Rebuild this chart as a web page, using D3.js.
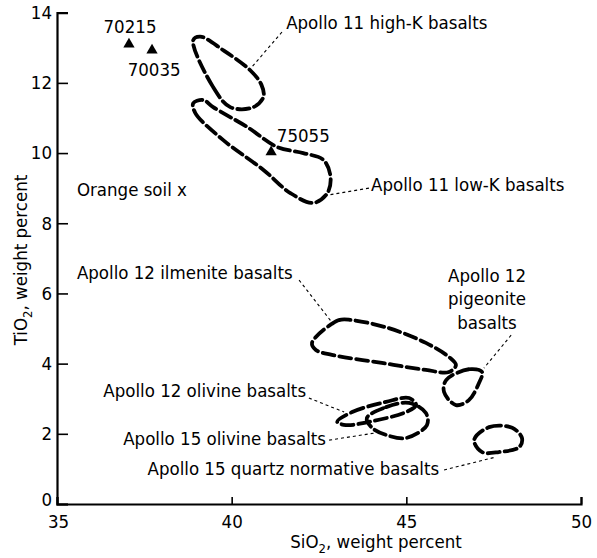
<!DOCTYPE html>
<html><head><meta charset="utf-8">
<script src="https://cdn.jsdelivr.net/npm/d3@7"></script>
<style>
body{margin:0;background:#fff}
text{font-family:"Liberation Sans Narrow","DejaVu Sans Condensed","Arial Narrow",sans-serif;fill:#000}
</style></head><body>
<svg id="c" width="597" height="558"></svg>
<script>
const xTicks=[35,40,45,50];
const yTicks=[0,2,4,6,8,10,12,14];

const highK=[[38.9,13.22],[39.47,11.88],[39.96,11.31],[40.6,11.3],[40.91,11.6],[40.85,11.95],[40.53,12.36],[39.76,12.93],[39.1,13.32]];
const lowK=[[38.9,11.42],[38.96,11.14],[39.76,10.37],[40.91,9.52],[41.68,8.86],[42.34,8.58],[42.74,8.86],[42.83,9.32],[42.63,9.8],[42.05,10.0],[41.31,10.17],[40.45,10.74],[39.47,11.31],[39.19,11.51]];
const ilmenite=[[42.3,4.59],[43.07,5.24],[43.45,5.24],[44.5,5.01],[45.56,4.59],[46.22,4.19],[46.42,3.96],[46.22,3.76],[45.56,3.82],[44.3,4.02],[42.87,4.25],[42.41,4.39]];
const pigeonite=[[47.17,3.76],[46.79,3.84],[46.14,3.53],[46.08,3.19],[46.42,2.82],[46.79,2.96],[47.08,3.45]];
const olivine12=[[43.02,2.34],[43.45,2.62],[44.42,2.91],[45.08,3.02],[45.28,2.82],[44.99,2.62],[43.93,2.34],[43.27,2.25]];
const olivine15=[[43.87,2.45],[44.42,2.76],[45.08,2.88],[45.56,2.59],[45.59,2.25],[44.99,1.88],[44.42,1.97],[44.02,2.17]];
const quartzNorm=[[46.94,1.82],[47.37,2.19],[48.03,2.17],[48.31,1.88],[48.23,1.62],[47.65,1.48],[47.17,1.48]];
const fields=[highK,lowK,ilmenite,pigeonite,olivine12,olivine15,quartzNorm];

const sampleNames=["70215","70035","75055"];
const sampleSi=[37.06,37.72,41.13];
const sampleTi=[13.1,12.93,10.03];
const sampleLabelPos=[[37.09,13.62,"middle"],[37.78,12.38,"middle"],[42.05,10.51,"middle"]];

const labels=[
 {t:["Apollo 11 high-K basalts"],p:[41.56,13.73],a:"start",l:[[41.44,13.45],[40.55,12.42]]},
 {t:["Apollo 11 low-K basalts"],p:[43.99,9.09],a:"start",l:[[43.93,9.0],[42.73,8.8]]},
 {t:["Apollo 12 ilmenite basalts"],p:[35.57,6.61],a:"start",l:[[41.93,6.38],[42.93,5.1]]},
 {t:["Apollo 12","pigeonite","basalts"],p:[47.31,6.52],a:"middle",l:[[48.0,4.81],[47.22,3.87]]},
 {t:["Apollo 12 olivine basalts"],p:[42.13,3.22],a:"end",l:[[42.21,3.02],[43.22,2.62]]},
 {t:["Apollo 15 olivine basalts"],p:[42.7,1.88],a:"end",l:[[42.79,1.82],[44.08,2.02]]},
 {t:["Apollo 15 quartz normative basalts"],p:[45.94,1.0],a:"end",l:[[46.08,0.97],[47.57,1.34]]},
 {t:["Orange soil x"],p:[35.57,8.95],a:"start",l:null}
];

const svg=d3.select("#c");
const x=d3.scaleLinear().domain([35,50]).range([57,581]);
const y=d3.scaleLinear().domain([0,14]).range([504,12.7]);
const fs=18.5;

// fields
const line=d3.line().x(d=>x(d[0])).y(d=>y(d[1])).curve(d3.curveCatmullRomClosed.alpha(0.5));
svg.selectAll("path.field").data(fields).join("path").attr("class","field")
 .attr("d",line).attr("fill","none").attr("stroke","#000").attr("stroke-width",3.8)
 .attr("stroke-dasharray","12,5").attr("stroke-linecap","round");

// leaders
labels.filter(d=>d.l).forEach(d=>{
 svg.append("line").attr("x1",x(d.l[0][0])).attr("y1",y(d.l[0][1])).attr("x2",x(d.l[1][0])).attr("y2",y(d.l[1][1]))
  .attr("stroke","#000").attr("stroke-width",1.1).attr("stroke-dasharray","3,3");
});
labels.forEach(d=>{
 const t=svg.append("text").attr("text-anchor",d.a).attr("font-size",fs);
 d.t.forEach((s,i)=>t.append("tspan").attr("x",x(d.p[0])).attr("y",y(d.p[1])+i*23.5).attr("dy","0.35em").text(s));
});

// samples
const tri=d3.symbol().type(d3.symbolTriangle).size(55);
sampleNames.forEach((n,i)=>{
 svg.append("path").attr("d",tri).attr("transform",`translate(${x(sampleSi[i])},${y(sampleTi[i])})`).attr("fill","#000");
 svg.append("text").attr("x",x(sampleLabelPos[i][0])).attr("y",y(sampleLabelPos[i][1])).attr("dy","0.35em")
  .attr("text-anchor",sampleLabelPos[i][2]).attr("font-size",fs).text(n);
});

// axes
const gx=svg.append("g").attr("transform",`translate(0,${y(0)})`)
 .call(d3.axisBottom(x).tickValues(xTicks).tickSize(-7).tickPadding(11).tickFormat(d3.format("d")));
const gy=svg.append("g").attr("transform",`translate(${x(35)},0)`)
 .call(d3.axisLeft(y).tickValues(yTicks).tickSize(-11).tickPadding(5).tickFormat(d3.format("d")));
[gx,gy].forEach(g=>{
 g.select(".domain").attr("stroke","#000").attr("stroke-width",2.2);
 g.selectAll(".tick line").attr("stroke","#000").attr("stroke-width",1.6);
 g.selectAll(".tick text").attr("font-size",fs).attr("font-family",null).attr("fill","#000");
});
gx.selectAll(".tick text").filter(d=>d===35).attr("dx",1);
gy.selectAll(".tick text").filter(d=>d===0).attr("dy","0.1em");

// titles
const xt=svg.append("text").attr("x",376).attr("y",548).attr("text-anchor","middle").attr("font-size",fs);
xt.append("tspan").text("SiO");
xt.append("tspan").attr("font-size",13).attr("dy",5).text("2");
xt.append("tspan").attr("dy",-5).text(", weight percent");
const yt=svg.append("text").attr("transform","translate(27,260) rotate(-90)").attr("text-anchor","middle").attr("font-size",fs);
yt.append("tspan").text("TiO");
yt.append("tspan").attr("font-size",13).attr("dy",5).text("2");
yt.append("tspan").attr("dy",-5).text(", weight percent");
</script></body></html>
